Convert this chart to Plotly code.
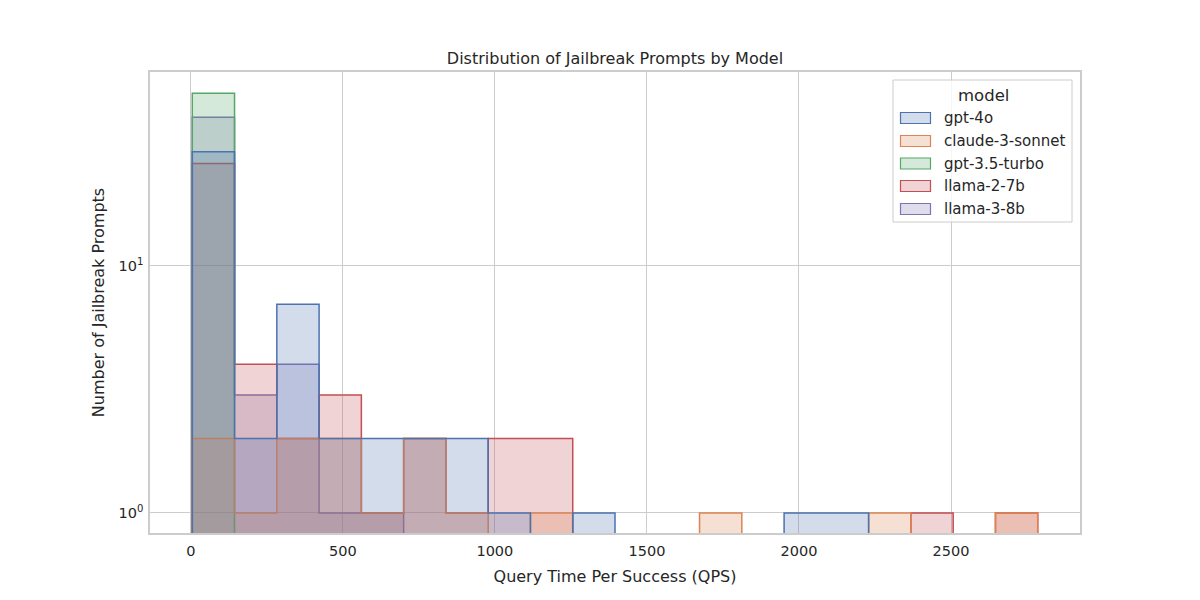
import numpy as np
import plotly.graph_objects as go

# Histogram bins (shared across models)
bin_start = 5.0
bin_width = 139.0
n_bins = 20

models = ["gpt-4o", "claude-3-sonnet", "gpt-3.5-turbo", "llama-2-7b", "llama-3-8b"]
colors = ["#4c72b0", "#dd8452", "#55a868", "#c44e52", "#8172b3"]

# Counts per bin for each model
gpt_4o          = [29, 2, 7, 2, 2, 2, 2, 1, 0, 1, 0, 0, 0, 0, 1, 1, 0, 0, 0, 0]
claude_3_sonnet = [2, 1, 2, 2, 1, 2, 1, 0, 1, 0, 0, 0, 1, 0, 0, 0, 1, 0, 0, 1]
gpt_35_turbo    = [50, 0, 0, 0, 0, 0, 0, 0, 0, 0, 0, 0, 0, 0, 0, 0, 0, 0, 0, 0]
llama_2_7b      = [26, 4, 2, 3, 1, 2, 1, 2, 2, 0, 0, 0, 0, 0, 0, 0, 0, 1, 0, 1]
llama_3_8b      = [40, 3, 4, 1, 1, 0, 0, 0, 0, 0, 0, 0, 0, 0, 0, 0, 0, 0, 0, 0]

counts = [gpt_4o, claude_3_sonnet, gpt_35_turbo, llama_2_7b, llama_3_8b]

edges = bin_start + bin_width * np.arange(n_bins + 1)
floor_val = 1e-3


def rgba(hex_color, a):
    h = hex_color.lstrip("#")
    r, g, b = int(h[0:2], 16), int(h[2:4], 16), int(h[4:6], 16)
    return f"rgba({r},{g},{b},{a})"


fig = go.Figure()

# draw in reverse order so first model is on top
for name, col, c in reversed(list(zip(models, colors, counts))):
    c = np.array(c, dtype=float)
    c = np.where(c > 0, c, floor_val)
    xs = [edges[0]]
    ys = [floor_val]
    for i in range(n_bins):
        xs += [edges[i], edges[i + 1]]
        ys += [c[i], c[i]]
    xs += [edges[-1], edges[0]]
    ys += [floor_val, floor_val]
    fig.add_trace(go.Scatter(
        x=xs, y=ys, mode="lines", name=name,
        fill="toself", fillcolor=rgba(col, 0.25),
        line=dict(color=col, width=1.5),
        hoverinfo="skip", showlegend=False,
    ))

font_family = "DejaVu Sans"
grid_col = "#cccccc"
text_col = "#262626"

# ---- manual legend (matplotlib style) ----
# plot area in screenshot pixels: x 150..1080, y 72..533
PX0, PX1, PY0, PY1 = 150.0, 1080.0, 72.0, 533.0


def px(xp):
    return (xp - PX0) / (PX1 - PX0)


def py(yp):
    return (PY1 - yp) / (PY1 - PY0)


shapes = []
annotations = []
# legend frame
shapes.append(dict(type="rect", xref="paper", yref="paper",
                   x0=px(893), x1=px(1072), y0=py(222), y1=py(80),
                   fillcolor="rgba(255,255,255,0.8)",
                   line=dict(color=grid_col, width=1), layer="above"))
annotations.append(dict(text="model", xref="paper", yref="paper",
                        x=px(983), y=py(95), xanchor="center", yanchor="middle",
                        showarrow=False, font=dict(size=16.5, color=text_col)))
row_y = [118, 141, 163.5, 186, 209]
for name, col, ry in zip(models, colors, row_y):
    shapes.append(dict(type="rect", xref="paper", yref="paper",
                       x0=px(900.5), x1=px(930.5), y0=py(ry + 5.5), y1=py(ry - 5.5),
                       fillcolor=rgba(col, 0.25),
                       line=dict(color=col, width=1.2), layer="above"))
    annotations.append(dict(text=name, xref="paper", yref="paper",
                            x=px(942), y=py(ry), xanchor="left", yanchor="middle",
                            showarrow=False, font=dict(size=15, color=text_col)))

fig.update_layout(
    width=1200, height=600,
    paper_bgcolor="white", plot_bgcolor="white",
    margin=dict(l=142, r=128, t=64, b=75),
    font=dict(family=font_family, size=14.5, color=text_col),
    title=dict(text="Distribution of Jailbreak Prompts by Model",
               x=0.5, xref="paper", xanchor="center",
               y=1 - 50 / 600, yref="container", yanchor="middle",
               font=dict(size=16, color=text_col)),
    showlegend=False,
    shapes=shapes,
    annotations=annotations,
)

fig.update_xaxes(
    range=[bin_start - 0.05 * (edges[-1] - bin_start), edges[-1] + 0.05 * (edges[-1] - bin_start)],
    tickvals=[0, 500, 1000, 1500, 2000, 2500],
    showgrid=True, gridcolor=grid_col, gridwidth=1,
    showline=True, linecolor=grid_col, linewidth=1.5, mirror=True,
    zeroline=False, ticks="outside", ticklen=4, tickcolor="white",
    title=dict(text="Query Time Per Success (QPS)", font=dict(size=16), standoff=13),
)
fig.update_yaxes(
    type="log", range=[-0.081, 1.785],
    tickvals=[1, 10], ticktext=["10<sup>0</sup>", "10<sup>1</sup>"],
    showgrid=True, gridcolor=grid_col, gridwidth=1,
    showline=True, linecolor=grid_col, linewidth=1.5, mirror=True,
    zeroline=False, ticks="outside", ticklen=2, tickcolor="white",
    title=dict(text="Number of Jailbreak Prompts", font=dict(size=16), standoff=10),
)

fig.write_html("out.html")
